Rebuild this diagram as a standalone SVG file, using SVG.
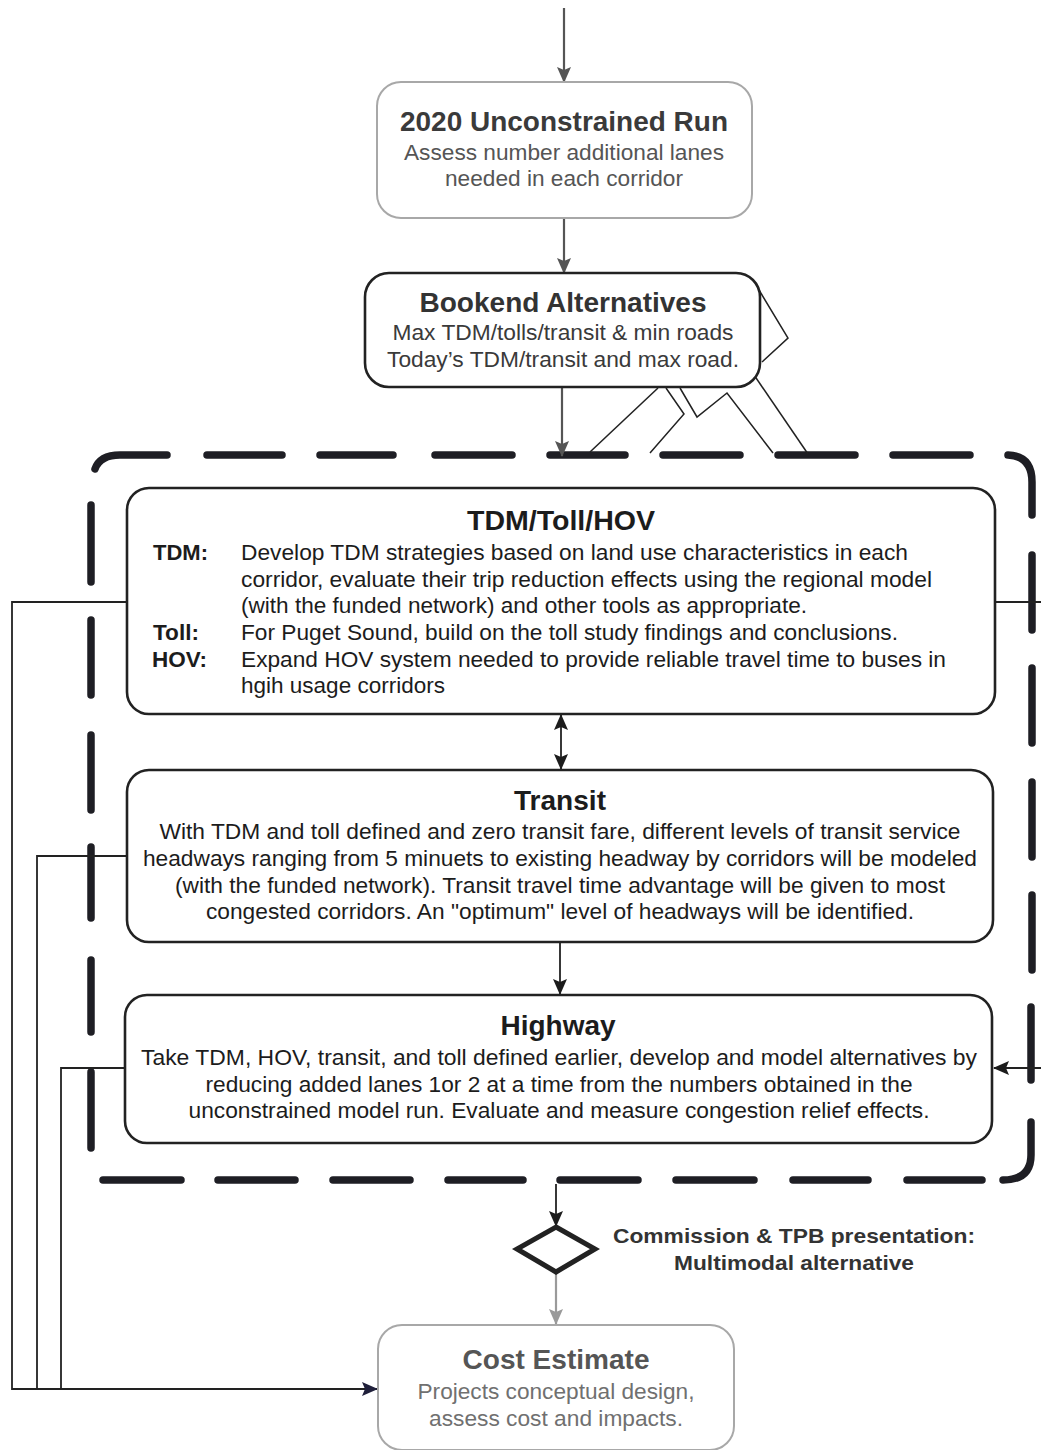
<svg xmlns="http://www.w3.org/2000/svg" width="1041" height="1450" viewBox="0 0 1041 1450">
  <style>
    text { font-family: "Liberation Sans", Arial, sans-serif; }
    .title { font-weight: bold; text-anchor: middle; }
    .mid { text-anchor: middle; }
    .box-light { fill: #ffffff; stroke: #a8a8a8; stroke-width: 2; }
    .box-dark { fill: #ffffff; stroke: #222222; stroke-width: 2.6; }
    .conn { fill: none; stroke: #222222; stroke-width: 1.8; }
    .conn-gray { fill: none; stroke: #555555; stroke-width: 2.2; }
    .conn-light { fill: none; stroke: #9a9a9a; stroke-width: 2.2; }
    .frame { fill: none; stroke: #1e1e24; stroke-width: 7.5; stroke-linecap: round; }
    .zig { fill: none; stroke: #222222; stroke-width: 1.5; }
    .body { fill: #1c1c1c; font-size: 22px; }
    .lbl { fill: #1c1c1c; font-size: 22px; font-weight: bold; }
  </style>
  <defs>
    <marker id="ah-gray" viewBox="0 0 16 14" refX="15" refY="7" markerWidth="16" markerHeight="14" orient="auto-start-reverse" markerUnits="userSpaceOnUse">
      <path d="M0,0 L16,7 L0,14 L3,7 z" fill="#555555"/>
    </marker>
    <marker id="ah-dark" viewBox="0 0 16 14" refX="15" refY="7" markerWidth="16" markerHeight="14" orient="auto-start-reverse" markerUnits="userSpaceOnUse">
      <path d="M0,0 L16,7 L0,14 L3,7 z" fill="#1c1c1c"/>
    </marker>
    <marker id="ah-light" viewBox="0 0 16 14" refX="15" refY="7" markerWidth="16" markerHeight="14" orient="auto" markerUnits="userSpaceOnUse">
      <path d="M0,0 L16,7 L0,14 L3,7 z" fill="#9a9a9a"/>
    </marker>
    <marker id="ah-navy" viewBox="0 0 16 14" refX="15" refY="7" markerWidth="16" markerHeight="14" orient="auto" markerUnits="userSpaceOnUse">
      <path d="M0,0 L16,7 L0,14 L3,7 z" fill="#1f1f3a"/>
    </marker>
  </defs>

  <rect x="0" y="0" width="1041" height="1450" fill="#ffffff"/>

  <!-- dashed boundary around the multimodal loop -->
  <g id="loop-frame">
    <path class="frame" d="M95 469 Q100 455 120 455 H167 M207 455 H282 M320 455 H393 M435 455 H512 M550 455 H625 M663 455 H740 M778 455 H855 M893 455 H970 M1008 455 Q1032 456 1032 482 V515"/>
    <path class="frame" d="M1032 555 V630 M1032 668 V743 M1032 782 V857 M1032 895 V970 M1031 1007 V1080 M1031 1122 V1155 Q1031 1180 1003 1180"/>
    <path class="frame" d="M103 1180 H181 M218 1180 H295 M333 1180 H410 M448 1180 H523 M560 1180 H638 M676 1180 H754 M793 1180 H868 M907 1180 H982"/>
    <path class="frame" d="M91 505 V582 M91 620 V695 M91 735 V810 M91 847 V918 M91 960 V1032 M91 1072 V1148"/>
  </g>

  <!-- connectors -->
  <g id="connectors">
    <path class="conn-gray" d="M564 8 V82" marker-end="url(#ah-gray)"/>
    <path class="conn-gray" d="M564 218 V273" marker-end="url(#ah-gray)"/>
    <path class="conn-gray" d="M562 388 V456" marker-end="url(#ah-gray)"/>
    <path class="conn" d="M561 715 V769" stroke-width="2.4" marker-start="url(#ah-dark)" marker-end="url(#ah-dark)"/>
    <path class="conn" d="M560 942 V994" stroke-width="2.4" marker-end="url(#ah-dark)"/>
    <path class="conn" d="M556 1184 V1226" stroke-width="2.4" marker-end="url(#ah-dark)"/>
    <path class="conn-light" d="M556 1273 V1324" marker-end="url(#ah-light)"/>
    <path class="conn" d="M127 602 H12 V1389 H377" marker-end="url(#ah-navy)"/>
    <path class="conn" d="M127 856 H37 V1389"/>
    <path class="conn" d="M125 1068 H61 V1389"/>
    <path class="conn" d="M995 602 H1041"/>
    <path class="conn" d="M1041 1068 H994" marker-end="url(#ah-dark)"/>
    <!-- stray strokes beside the bookend box -->
    <path class="zig" d="M759 290 L788 338 L762 362"/>
    <path class="zig" d="M658 388 L590 452"/>
    <path class="zig" d="M666 388 L684 414 L650 453"/>
    <path class="zig" d="M680 388 L697 417 L727 393 L773 453"/>
    <path class="zig" d="M752 372 L808 454"/>
  </g>

  <g id="unconstrained-run">
    <rect class="box-light" x="377" y="82" width="375" height="136" rx="24"/>
    <text class="title" x="564" y="131" font-size="27" fill="#3a3a3a" textLength="328" lengthAdjust="spacingAndGlyphs">2020 Unconstrained Run</text>
    <text class="mid" x="564" y="160" font-size="22" fill="#555555" textLength="320" lengthAdjust="spacingAndGlyphs">Assess number additional lanes</text>
    <text class="mid" x="564" y="186" font-size="22" fill="#555555" textLength="238" lengthAdjust="spacingAndGlyphs">needed in each corridor</text>
  </g>

  <g id="bookend-alternatives">
    <rect class="box-dark" x="365" y="273" width="395" height="114" rx="24" stroke="#2a2a2a"/>
    <text class="title" x="563" y="312" font-size="27" fill="#333333" textLength="287" lengthAdjust="spacingAndGlyphs">Bookend Alternatives</text>
    <text class="mid" x="563" y="340" font-size="22" fill="#3a3a3a" textLength="341" lengthAdjust="spacingAndGlyphs">Max TDM/tolls/transit &amp; min roads</text>
    <text class="mid" x="563" y="367" font-size="22" fill="#3a3a3a" textLength="352" lengthAdjust="spacingAndGlyphs">Today’s TDM/transit and max road.</text>
  </g>

  <g id="tdm-toll-hov">
    <rect class="box-dark" x="127" y="488" width="868" height="226" rx="22"/>
    <text class="title" x="561" y="530" font-size="27" fill="#1c1c1c" textLength="188" lengthAdjust="spacingAndGlyphs">TDM/Toll/HOV</text>
    <text class="lbl" x="153" y="560" textLength="55" lengthAdjust="spacingAndGlyphs">TDM:</text>
    <text class="lbl" x="153" y="640" textLength="46" lengthAdjust="spacingAndGlyphs">Toll:</text>
    <text class="lbl" x="152" y="667" textLength="55" lengthAdjust="spacingAndGlyphs">HOV:</text>
    <text class="body" x="241" y="560" textLength="667" lengthAdjust="spacingAndGlyphs">Develop TDM strategies based on land use characteristics in each</text>
    <text class="body" x="241" y="587" textLength="691" lengthAdjust="spacingAndGlyphs">corridor, evaluate their trip reduction effects using the regional model</text>
    <text class="body" x="241" y="613" textLength="566" lengthAdjust="spacingAndGlyphs">(with the funded network) and other tools as appropriate.</text>
    <text class="body" x="241" y="640" textLength="657" lengthAdjust="spacingAndGlyphs">For Puget Sound, build on the toll study findings and conclusions.</text>
    <text class="body" x="241" y="667" textLength="705" lengthAdjust="spacingAndGlyphs">Expand HOV system needed to provide reliable travel time to buses in</text>
    <text class="body" x="241" y="693" textLength="204" lengthAdjust="spacingAndGlyphs">hgih usage corridors</text>
  </g>

  <g id="transit">
    <rect class="box-dark" x="127" y="770" width="866" height="172" rx="22"/>
    <text class="title" x="560" y="810" font-size="27" fill="#1c1c1c" textLength="92" lengthAdjust="spacingAndGlyphs">Transit</text>
    <text class="body mid" x="560" y="839" textLength="801" lengthAdjust="spacingAndGlyphs">With TDM and toll defined and zero transit fare, different levels of transit service</text>
    <text class="body mid" x="560" y="866" textLength="834" lengthAdjust="spacingAndGlyphs">headways ranging from 5 minuets to existing headway by corridors will be modeled</text>
    <text class="body mid" x="560" y="893" textLength="770" lengthAdjust="spacingAndGlyphs">(with the funded network). Transit travel time advantage will be given to most</text>
    <text class="body mid" x="560" y="919" textLength="708" lengthAdjust="spacingAndGlyphs">congested corridors. An "optimum" level of headways will be identified.</text>
  </g>

  <g id="highway">
    <rect class="box-dark" x="125" y="995" width="867" height="148" rx="22"/>
    <text class="title" x="558" y="1035" font-size="27" fill="#1c1c1c" textLength="115" lengthAdjust="spacingAndGlyphs">Highway</text>
    <text class="body mid" x="559" y="1065" textLength="836" lengthAdjust="spacingAndGlyphs">Take TDM, HOV, transit, and toll defined earlier, develop and model alternatives by</text>
    <text class="body mid" x="559" y="1092" textLength="707" lengthAdjust="spacingAndGlyphs">reducing added lanes 1or 2 at a time from the numbers obtained in the</text>
    <text class="body mid" x="559" y="1118" textLength="741" lengthAdjust="spacingAndGlyphs">unconstrained model run. Evaluate and measure congestion relief effects.</text>
  </g>

  <g id="commission-review">
    <polygon points="556,1227 595,1249 556,1272 517,1249" fill="#ffffff" stroke="#222222" stroke-width="5" stroke-linejoin="miter"/>
    <text class="title" x="794" y="1243" font-size="21" fill="#333333" textLength="362" lengthAdjust="spacingAndGlyphs">Commission &amp; TPB presentation:</text>
    <text class="title" x="794" y="1270" font-size="21" fill="#333333" textLength="240" lengthAdjust="spacingAndGlyphs">Multimodal alternative</text>
  </g>

  <g id="cost-estimate">
    <rect class="box-light" x="378" y="1325" width="356" height="125" rx="24"/>
    <text class="title" x="556" y="1369" font-size="27" fill="#555555" textLength="187" lengthAdjust="spacingAndGlyphs">Cost Estimate</text>
    <text class="mid" x="556" y="1399" font-size="22" fill="#707070" textLength="277" lengthAdjust="spacingAndGlyphs">Projects conceptual design,</text>
    <text class="mid" x="556" y="1426" font-size="22" fill="#707070" textLength="254" lengthAdjust="spacingAndGlyphs">assess cost and impacts.</text>
  </g>
</svg>
